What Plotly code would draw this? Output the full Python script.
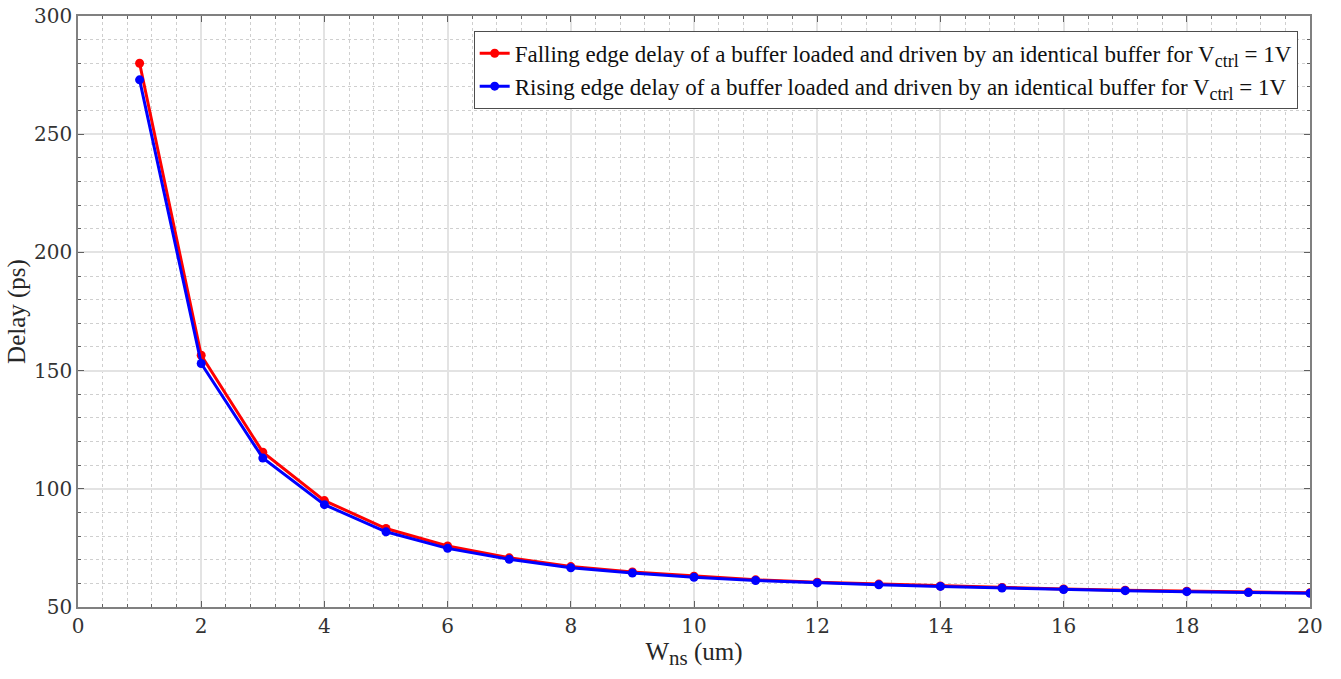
import plotly.graph_objects as go

w_ns = list(range(1, 21))
falling_delay = [280, 156.5, 115.5, 95, 83.2, 75.8, 70.8, 67.1, 64.8, 63.0,
                 61.5, 60.5, 59.7, 58.9, 58.3, 57.6, 57.1, 56.7, 56.3, 56.0]
rising_delay = [273, 153, 113, 93.3, 81.8, 74.8, 70.2, 66.6, 64.4, 62.6,
                61.2, 60.2, 59.4, 58.7, 58.0, 57.4, 56.9, 56.5, 56.1, 55.8]

SUB = '<sub><span style="font-size:18px">ctrl</span></sub>'
name_fall = "Falling edge delay of a buffer loaded and driven by an identical buffer for V" + SUB + " = 1V"
name_rise = "Rising edge delay of a buffer loaded and driven by an identical buffer for V" + SUB + " = 1V"

FONT = "Liberation Serif"
TICKFONT = "DejaVu Serif"

fig = go.Figure()
fig.add_trace(go.Scatter(x=w_ns, y=falling_delay, mode="lines+markers", name=name_fall,
                         line=dict(color="#ff0000", width=3),
                         marker=dict(color="#ff0000", size=9, symbol="circle")))
fig.add_trace(go.Scatter(x=w_ns, y=rising_delay, mode="lines+markers", name=name_rise,
                         line=dict(color="#0000ff", width=3),
                         marker=dict(color="#0000ff", size=9, symbol="circle")))

axis_common = dict(
    showline=True, linecolor="#808080", linewidth=1.5, mirror="ticks",
    ticks="inside", ticklen=6, tickcolor="#606060",
    showgrid=True, gridcolor="#e3e3e3", gridwidth=1.5,
    zeroline=False, automargin=False, ticklabeloverflow="allow",
    tickfont=dict(family=TICKFONT, size=20, color="#333333"),
)

fig.update_xaxes(range=[0, 20], dtick=2, tick0=0,
                 minor=dict(dtick=0.4, ticks="inside", ticklen=3, tickcolor="#606060",
                            showgrid=True, gridcolor="#cfcfcf", griddash="dot", gridwidth=1),
                 title=dict(text='W<sub><span style="font-size:21px">ns</span></sub> (um)',
                            font=dict(family=FONT, size=25, color="#262626"),
                            standoff=4),
                 **axis_common)
fig.update_yaxes(range=[50, 300], dtick=50, tick0=50,
                 minor=dict(dtick=10, ticks="inside", ticklen=3, tickcolor="#606060",
                            showgrid=True, gridcolor="#cfcfcf", griddash="dot", gridwidth=1),
                 title=dict(text="Delay (ps)", font=dict(family=FONT, size=25, color="#262626"),
                            standoff=1),
                 **axis_common)

fig.update_layout(
    width=1341, height=679,
    margin=dict(l=78, r=31, t=16, b=72),
    paper_bgcolor="white", plot_bgcolor="white",
    font=dict(family=FONT, color="#262626"),
    showlegend=True,
    legend=dict(x=0.990, y=0.975, xanchor="right", yanchor="top",
                bgcolor="white", bordercolor="#4d4d4d", borderwidth=1,
                font=dict(family=FONT, size=23, color="#111111"),
                tracegroupgap=6, itemwidth=30),
)

# remove the default 8px body margin so the figure fills the window exactly
fig.write_html("out.html",
               config={"displayModeBar": False},
               post_script="document.body.style.margin='0';document.body.style.overflow='hidden';")
